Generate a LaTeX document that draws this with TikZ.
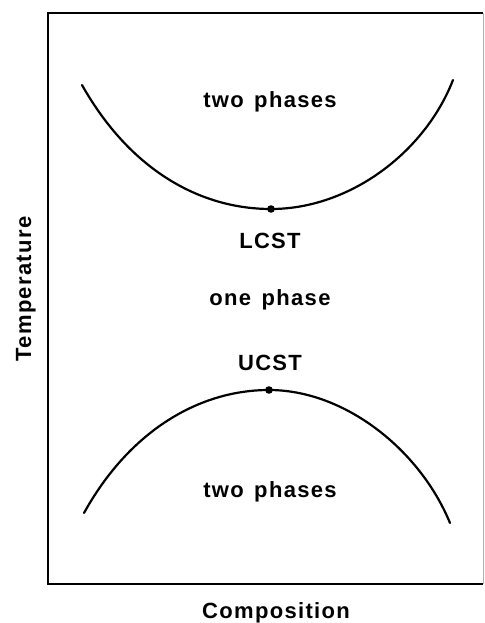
\documentclass[tikz,border=0pt]{standalone}
\usepackage{fontspec}
\setsansfont{Liberation Sans}[LetterSpace=6,WordSpace=1.4]
\tikzset{
  lbl/.style={font=\sffamily\bfseries\fontsize{22}{26}\selectfont, anchor=base, inner sep=0pt},
  curve/.style={line width=2.2pt, line cap=round},
}

\begin{document}
\begin{tikzpicture}[x=1pt,y=-1pt]
  \useasboundingbox (0,0) rectangle (484,623);
  % frame
  \draw[line width=2pt] (483,13) -- (48,13) -- (48,584) -- (483,584);
  \draw[gray!60,line width=0.6pt] (483,13) -- (483,584);
  % critical points
  \coordinate (lcst) at (271,209);
  \coordinate (ucst) at (269,390);
  % upper and lower coexistence curves
  \draw[curve] (82,85) .. controls (130,170) and (200,209) .. (lcst)
    .. controls (350,209) and (425,152) .. (453,80);
  \draw[curve] (84,513) .. controls (130,430) and (200,390) .. (ucst)
    .. controls (345,390) and (420,450) .. (450,523);
  \fill (lcst) circle (3.8pt);
  \fill (ucst) circle (3.8pt);
  % labels
  \node[lbl] (upper) at (270,108) {two phases};
  \node[lbl] (lcsttext) at (270,248) {LCST};
  \node[lbl] (one) at (270,305) {one phase};
  \node[lbl] (ucsttext) at (270,370) {UCST};
  \node[lbl] (lower) at (270,497) {two phases};
  \node[lbl] (xlabel) at (276,618) {Composition};
  \node[lbl,rotate=90] (ylabel) at (31,289) {Temperature};
\end{tikzpicture}
\end{document}
